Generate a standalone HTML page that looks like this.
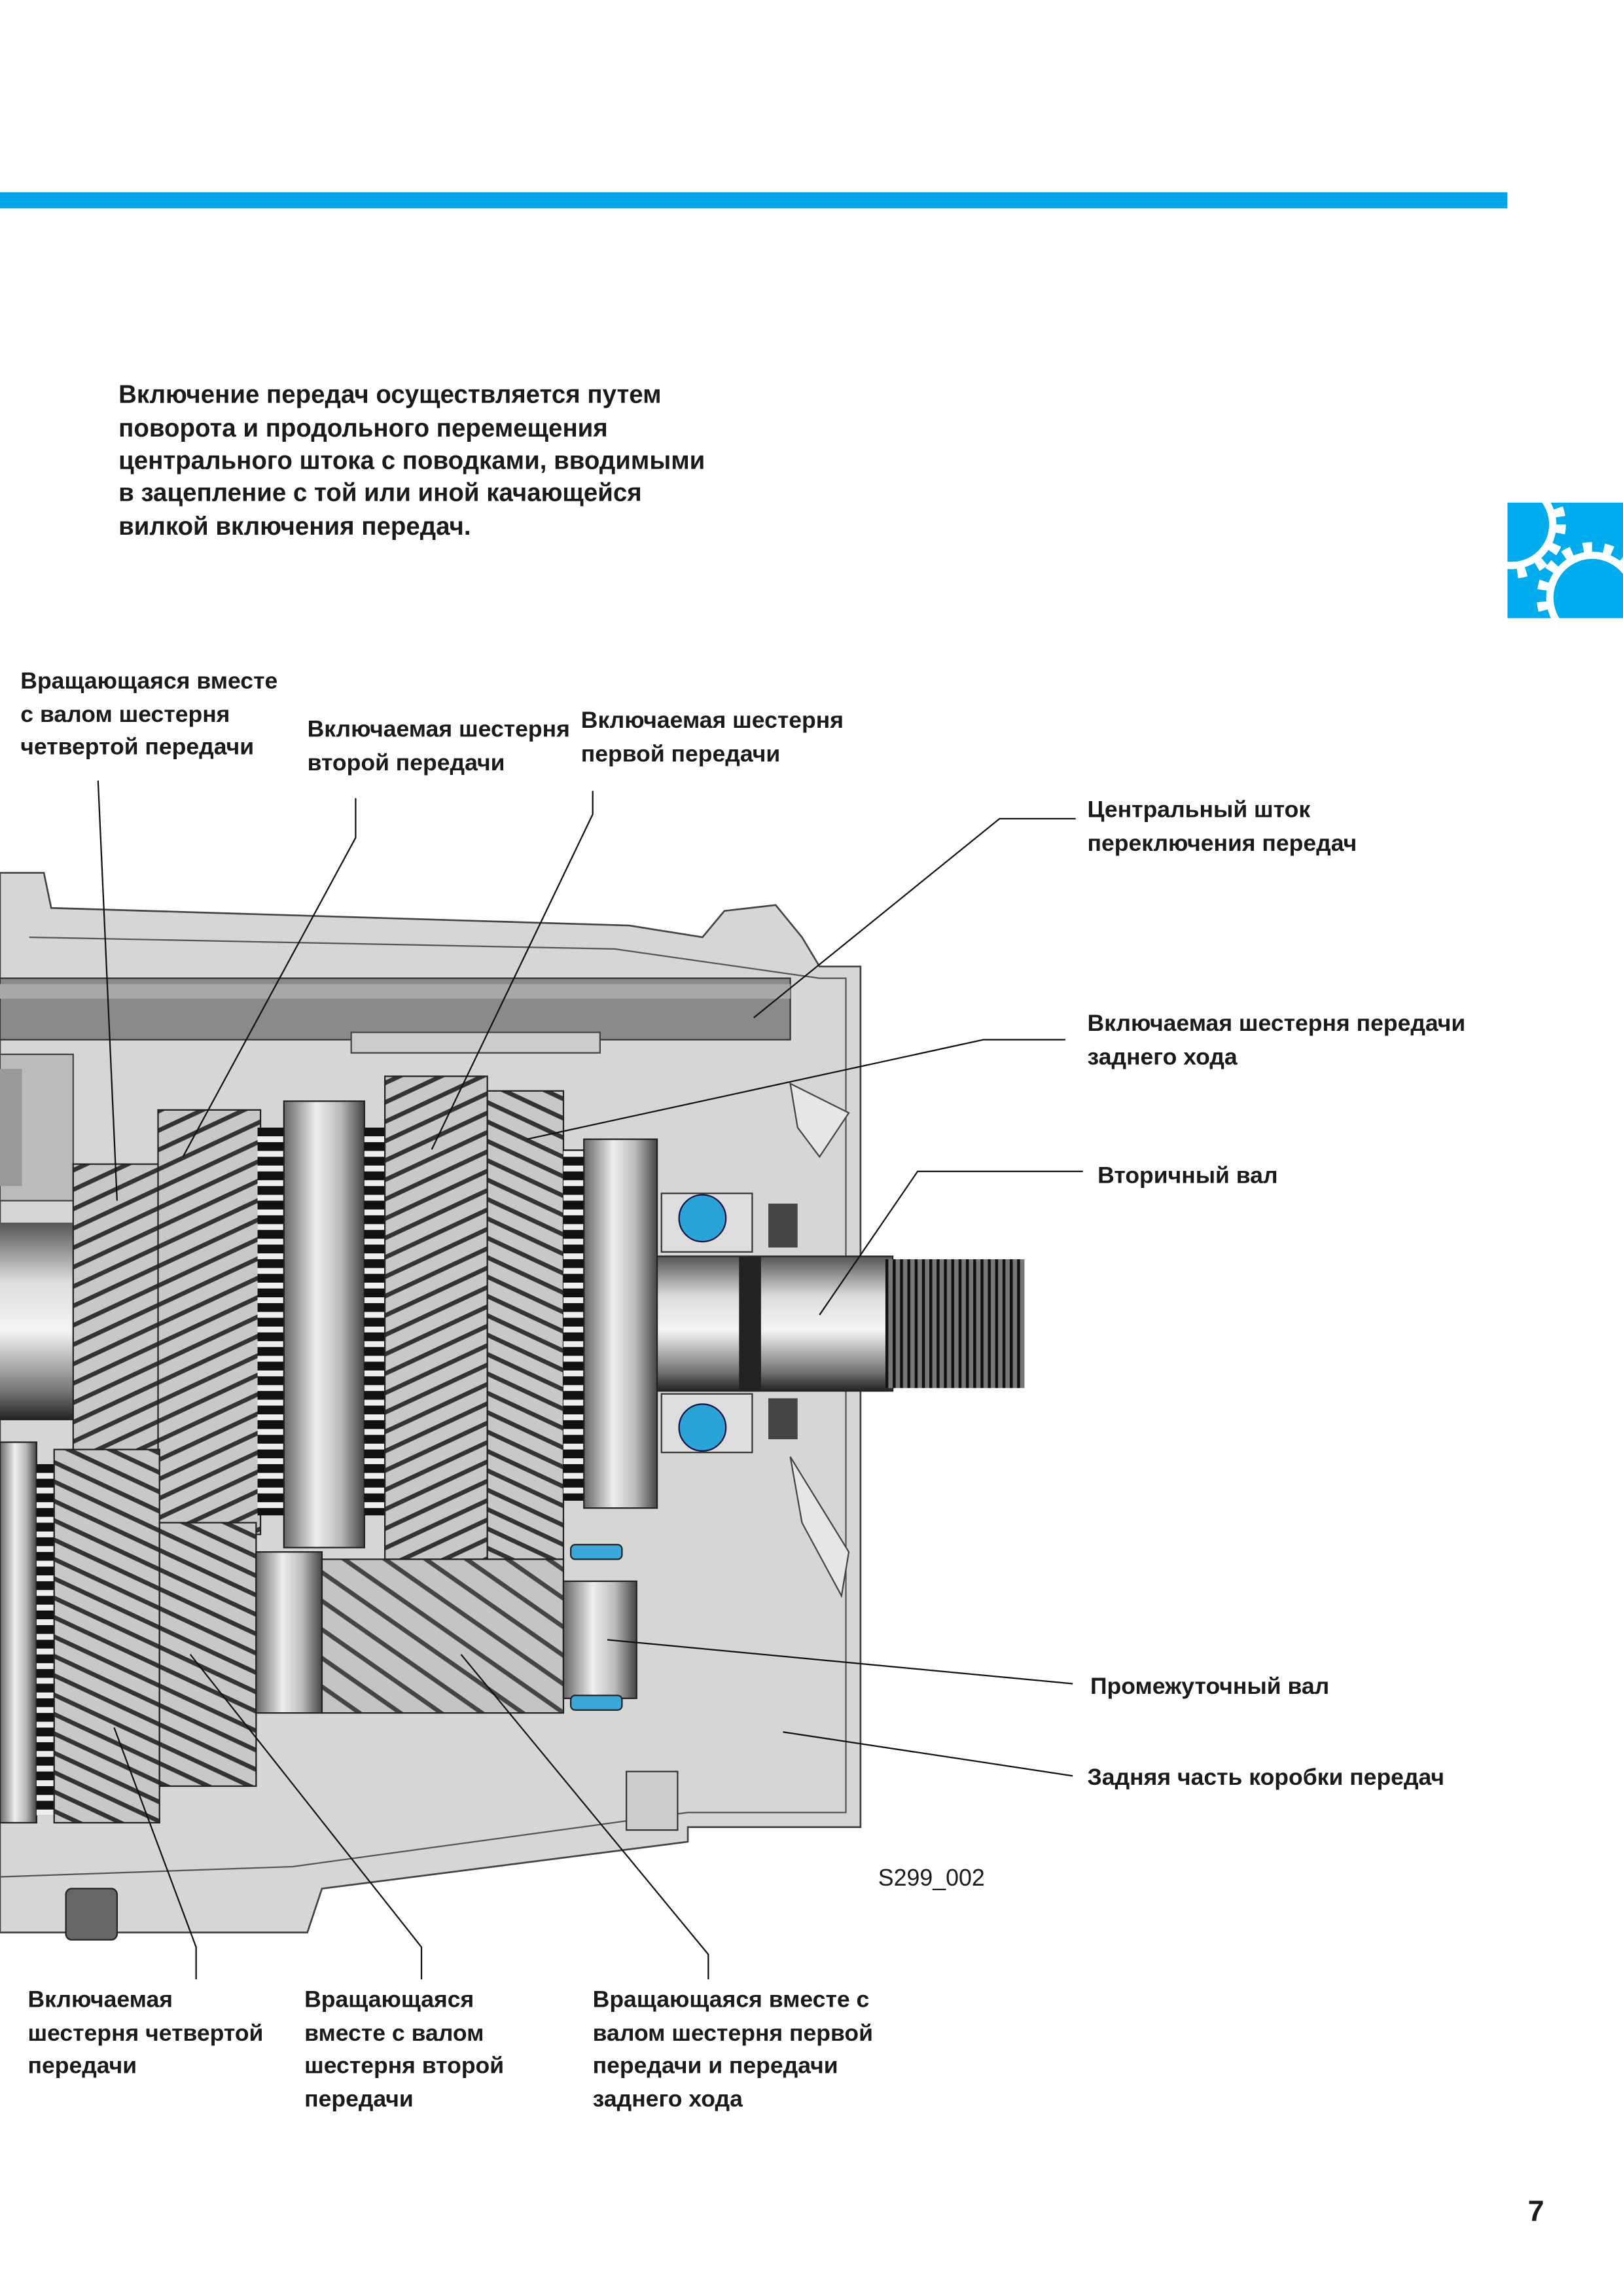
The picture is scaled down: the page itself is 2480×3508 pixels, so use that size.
<!DOCTYPE html>
<html><head><meta charset="utf-8"><style>
html,body{margin:0;padding:0;background:#fff}
svg{display:block}
text{font-family:"Liberation Sans","DejaVu Sans",sans-serif;fill:#1a1a1a}
.b{font-weight:bold;font-size:17.2px}
.l{font-size:15.9px;font-weight:bold}
</style></head><body>
<svg width="2480" height="3508" viewBox="0 0 1109 1568" xmlns="http://www.w3.org/2000/svg">
<defs>
<linearGradient id="cyl" x1="0" y1="0" x2="0" y2="1">
<stop offset="0" stop-color="#555"/><stop offset=".3" stop-color="#ddd"/><stop offset=".55" stop-color="#f4f4f4"/><stop offset=".85" stop-color="#777"/><stop offset="1" stop-color="#222"/></linearGradient>
<linearGradient id="cylh" x1="0" y1="0" x2="1" y2="0">
<stop offset="0" stop-color="#666"/><stop offset=".4" stop-color="#eee"/><stop offset=".7" stop-color="#bbb"/><stop offset="1" stop-color="#444"/></linearGradient>
<pattern id="st1" width="12" height="12" patternUnits="userSpaceOnUse" patternTransform="rotate(-25)">
<rect width="12" height="12" fill="#c8c8c8"/><rect width="12" height="3" fill="#333"/></pattern>
<pattern id="st2" width="12" height="12" patternUnits="userSpaceOnUse" patternTransform="rotate(25)">
<rect width="12" height="12" fill="#c8c8c8"/><rect width="12" height="3" fill="#333"/></pattern>
<pattern id="st3" width="16" height="16" patternUnits="userSpaceOnUse" patternTransform="rotate(35)">
<rect width="16" height="16" fill="#c4c4c4"/><rect width="16" height="3" fill="#444"/></pattern>
<pattern id="teeth" width="6" height="10" patternUnits="userSpaceOnUse">
<rect width="6" height="10" fill="#eee"/><rect width="6" height="6" fill="#111"/></pattern>
<pattern id="spl" width="5" height="10" patternUnits="userSpaceOnUse">
<rect width="5" height="10" fill="#777"/><rect width="2" height="10" fill="#111"/></pattern>
<clipPath id="ic"><rect x="1030" y="343" width="79" height="79"/></clipPath>
</defs>

<rect x="0" y="131" width="1030" height="11" fill="#00a5e8"/>

<g clip-path="url(#ic)">
<rect x="1030" y="343" width="79" height="79" fill="#00aced"/>
<circle cx="1033" cy="358" r="28" fill="none" stroke="#fff" stroke-width="5"/>
<circle cx="1033" cy="358" r="33" fill="none" stroke="#fff" stroke-width="8" stroke-dasharray="6 8"/>
<circle cx="1088" cy="408" r="29" fill="none" stroke="#fff" stroke-width="5"/>
<circle cx="1088" cy="408" r="34" fill="none" stroke="#fff" stroke-width="8" stroke-dasharray="6 8"/>
</g>

<text class="b" x="81" y="275">Включение передач осуществляется путем</text>
<text class="b" x="81" y="298">поворота и продольного перемещения</text>
<text class="b" x="81" y="320">центрального штока с поводками, вводимыми</text>
<text class="b" x="81" y="342">в зацепление с той или иной качающейся</text>
<text class="b" x="81" y="365">вилкой включения передач.</text>

<path d="M0,596 L30,596 L35,620 L430,632 L480,640 L495,622 L530,618 L548,640 L560,660 L588,660 L588,1248 L470,1248 L470,1258 L220,1290 L210,1320 L0,1320 Z" fill="#d6d6d6" stroke="#444" stroke-width="1.2"/>
<path d="M20,640 L420,648 L560,668 L578,668 L578,1238 L470,1238 L200,1275 L0,1282" fill="none" stroke="#555" stroke-width="1"/>
<rect x="0" y="668" width="540" height="42" fill="#8a8a8a" stroke="#333"/>
<rect x="0" y="672" width="540" height="10" fill="#a8a8a8"/>
<rect x="240" y="705" width="170" height="14" fill="#ccc" stroke="#444"/>
<path d="M0,720 L50,720 L50,820 L0,820 Z" fill="#bbb" stroke="#444"/>
<rect x="0" y="730" width="15" height="80" fill="#999"/>
<path d="M540,740 L580,760 L560,790 L545,770 Z" fill="#e6e6e6" stroke="#444"/>
<path d="M540,995 L580,1060 L575,1090 L548,1040 Z" fill="#e6e6e6" stroke="#444"/>
<rect x="428" y="1210" width="35" height="40" fill="#ccc" stroke="#333"/>
<rect x="45" y="1290" width="35" height="35" rx="4" fill="#666" stroke="#222"/>
<rect x="440" y="858" width="170" height="92" fill="url(#cyl)" stroke="#222"/>
<rect x="505" y="858" width="15" height="92" fill="#222"/>
<rect x="605" y="860" width="95" height="88" fill="url(#spl)"/>
<rect x="452" y="815" width="62" height="40" fill="#ddd" stroke="#333"/>
<rect x="452" y="952" width="62" height="40" fill="#ddd" stroke="#333"/>
<circle cx="480" cy="832" r="16" fill="#2aa3d8" stroke="#114"/>
<circle cx="480" cy="975" r="16" fill="#2aa3d8" stroke="#114"/>
<rect x="525" y="822" width="20" height="30" fill="#444"/>
<rect x="525" y="955" width="20" height="28" fill="#444"/>
<rect x="0" y="835" width="60" height="135" fill="url(#cyl)"/>
<rect x="50" y="795" width="60" height="200" fill="url(#st1)" stroke="#222"/>
<rect x="108" y="758" width="70" height="290" fill="url(#st1)" stroke="#222"/>
<rect x="176" y="770" width="18" height="265" fill="url(#teeth)"/>
<rect x="194" y="752" width="55" height="305" fill="url(#cylh)" stroke="#222"/>
<rect x="249" y="770" width="14" height="265" fill="url(#teeth)"/>
<rect x="263" y="735" width="70" height="330" fill="url(#st1)" stroke="#222"/>
<rect x="333" y="745" width="52" height="320" fill="url(#st2)" stroke="#222"/>
<rect x="385" y="785" width="14" height="240" fill="url(#teeth)"/>
<rect x="399" y="778" width="50" height="252" fill="url(#cylh)" stroke="#222"/>
<rect x="0" y="985" width="25" height="260" fill="url(#cylh)" stroke="#222"/>
<rect x="25" y="1000" width="12" height="240" fill="url(#teeth)"/>
<rect x="37" y="990" width="72" height="255" fill="url(#st2)" stroke="#222"/>
<rect x="109" y="1040" width="66" height="180" fill="url(#st2)" stroke="#222"/>
<rect x="175" y="1060" width="45" height="110" fill="url(#cylh)" stroke="#222"/>
<rect x="220" y="1065" width="165" height="105" fill="url(#st3)" stroke="#222"/>
<rect x="385" y="1080" width="50" height="80" fill="url(#cylh)" stroke="#222"/>
<rect x="390" y="1055" width="35" height="10" rx="3" fill="#3aa8d8" stroke="#222"/>
<rect x="390" y="1158" width="35" height="10" rx="3" fill="#3aa8d8" stroke="#222"/>

<g fill="none" stroke="#111" stroke-width="1">
<polyline points="67,533 80,820"/>
<polyline points="243,545 243,572 125,790"/>
<polyline points="405,540 405,556 295,785"/>
<polyline points="735,559 683,559 515,695"/>
<polyline points="728,710 672,710 360,778"/>
<polyline points="740,800 627,800 560,898"/>
<polyline points="733,1150 415,1120"/>
<polyline points="733,1213 535,1183"/>
<polyline points="134,1352 134,1330 78,1180"/>
<polyline points="288,1352 288,1330 130,1130"/>
<polyline points="484,1352 484,1335 315,1130"/>
</g>

<text class="l" x="14" y="470">Вращающаяся вместе</text>
<text class="l" x="14" y="493">с валом шестерня</text>
<text class="l" x="14" y="515">четвертой передачи</text>
<text class="l" x="210" y="503">Включаемая шестерня</text>
<text class="l" x="210" y="526">второй передачи</text>
<text class="l" x="397" y="497">Включаемая шестерня</text>
<text class="l" x="397" y="520">первой передачи</text>
<text class="l" x="743" y="558">Центральный шток</text>
<text class="l" x="743" y="581">переключения передач</text>
<text class="l" x="743" y="704">Включаемая шестерня передачи</text>
<text class="l" x="743" y="727">заднего хода</text>
<text class="l" x="750" y="808">Вторичный вал</text>
<text class="l" x="745" y="1157">Промежуточный вал</text>
<text class="l" x="743" y="1219">Задняя часть коробки передач</text>
<text x="600" y="1288" font-size="16">S299_002</text>
<text class="l" x="19" y="1371">Включаемая</text>
<text class="l" x="19" y="1394">шестерня четвертой</text>
<text class="l" x="19" y="1416">передачи</text>
<text class="l" x="208" y="1371">Вращающаяся</text>
<text class="l" x="208" y="1394">вместе с валом</text>
<text class="l" x="208" y="1416">шестерня второй</text>
<text class="l" x="208" y="1439">передачи</text>
<text class="l" x="405" y="1371">Вращающаяся вместе с</text>
<text class="l" x="405" y="1394">валом шестерня первой</text>
<text class="l" x="405" y="1416">передачи и передачи</text>
<text class="l" x="405" y="1439">заднего хода</text>
<text x="1044" y="1517" font-size="20" font-weight="bold">7</text>
</svg>
</body></html>
